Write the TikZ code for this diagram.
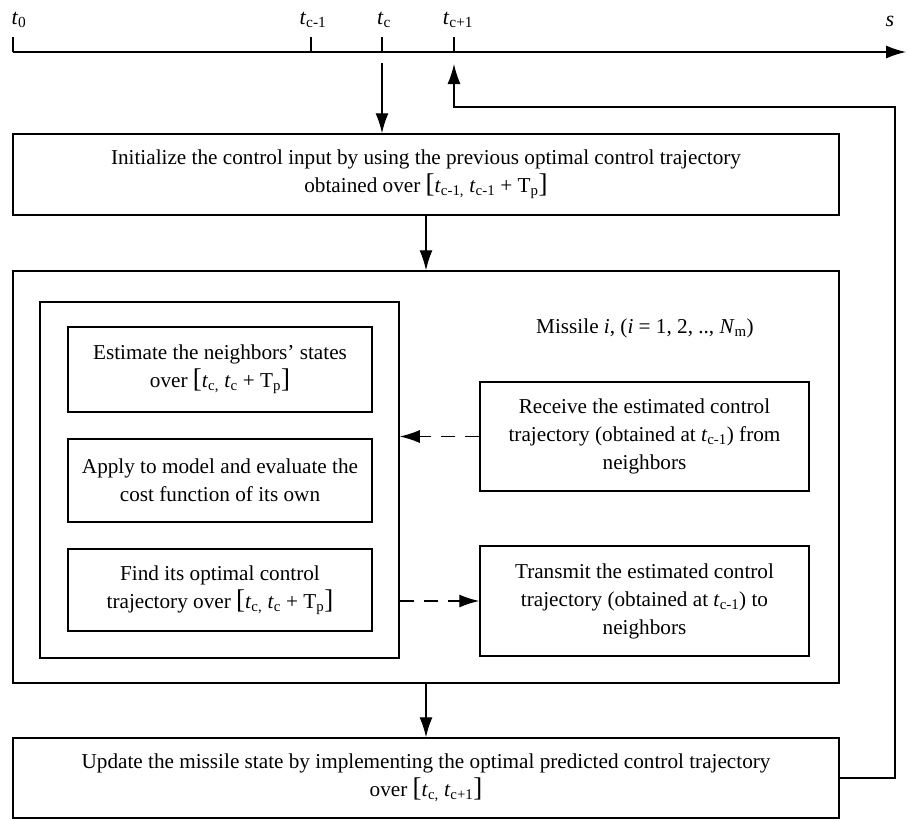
\documentclass[tikz,border=0pt]{standalone}
\usepackage{fontspec}
\setmainfont{Liberation Serif}
\usetikzlibrary{arrows.meta}
\newcommand\tv[1]{\textit{t}\textsubscript{#1}}
\newcommand\Tp{T\textsubscript{p}}
\newcommand\lb{{\fontsize{27}{28}\selectfont[}}
\newcommand\rb{{\fontsize{27}{28}\selectfont]}}
\begin{document}
\begin{tikzpicture}[x=1pt,y=1pt,
  every node/.style={font=\fontsize{21.2}{28}\selectfont},
  box/.style={draw,line width=1.5pt,inner sep=0pt,align=center},
  arr/.style={line width=1.4pt,-{Latex[length=20pt,width=13pt]}},
  darr/.style={arr,dash pattern=on 14pt off 10pt},
  axl/.style={font=\fontsize{22}{24}\selectfont}]
\clip (0,0) rectangle (907,-820);
\fill[white] (0,0) rectangle (907,-820);
% time axis
\coordinate (a0) at (13,-52);
\coordinate (aend) at (906,-52);
\draw[arr] (a0) -- (aend);
\coordinate (k1) at (311,-52);
\coordinate (k2) at (382,-52);
\coordinate (k3) at (454,-52);
\draw[line width=1.4pt] (a0) -- ++(0,15) (k1) -- ++(0,15) (k2) -- ++(0,15) (k3) -- ++(0,15);
\node[axl,anchor=base west] (l0) at (8,-24) {\tv{0}};
\node[axl,anchor=base] (l1) at (313,-24) {\tv{c-1}};
\node[axl,anchor=base] (l2) at (384,-24) {\tv{c}};
\node[axl,anchor=base] (l3) at (458,-24) {\tv{c+1}};
\node[axl,anchor=base] (ls) at (890,-26) {\textit{s}};
% boxes
\node[box,minimum width=826pt,minimum height=81pt] (b1) at (426,-174.5)
  {Initialize the control input by using the previous optimal control trajectory\\
   obtained over \lb\tv{c-1,} \tv{c-1} + \Tp\rb};
\node[box,minimum width=826pt,minimum height=412pt] (b2) at (426,-477) {};
\node[box,minimum width=359pt,minimum height=356pt] (in) at (219.5,-480) {};
\node[box,minimum width=304pt,minimum height=85pt] (ba) at (220,-369.5)
  {Estimate the neighbors' states\\ over \lb\tv{c,} \tv{c} + \Tp\rb};
\node[box,minimum width=304pt,minimum height=83pt] (bb) at (220,-480.5)
  {Apply to model and evaluate the\\ cost function of its own};
\node[box,minimum width=304pt,minimum height=82pt] (bc) at (220,-590)
  {Find its optimal control\\ trajectory over \lb\tv{c,} \tv{c} + \Tp\rb};
\node[anchor=base] (ml) at (645,-333) {Missile \textit{i}, (\textit{i} = 1, 2, .., \textit{N}\textsubscript{m})};
\node[box,minimum width=329pt,minimum height=109pt] (rc) at (644.5,-436.5)
  {Receive the estimated control\\ trajectory (obtained at \tv{c-1}) from\\ neighbors};
\node[box,minimum width=329pt,minimum height=110pt] (tr) at (644.5,-601)
  {Transmit the estimated control\\ trajectory (obtained at \tv{c-1}) to\\ neighbors};
\node[box,minimum width=826pt,minimum height=80pt] (b3) at (426,-778)
  {Update the missile state by implementing the optimal predicted control trajectory\\
   over \lb\tv{c,} \tv{c+1}\rb};
% connectors
\coordinate (d0) at (382,-63);
\draw[arr] (d0) -- (d0 |- b1.north);
\draw[arr] (b1.south) -- (b2.north);
\draw[arr] (b2.south) -- (b3.north);
\draw[darr] (rc.west) -- (rc.west -| in.east);
\draw[darr] (in.east |- tr.west) -- (tr.west);
\coordinate (f1) at (895,-778);
\coordinate (f2) at (895,-107);
\coordinate (f3) at (454,-107);
\coordinate (f4) at (454,-64);
\draw[arr] (b3.east) -- (f1) -- (f2) -- (f3) -- (f4);
\end{tikzpicture}
\end{document}
